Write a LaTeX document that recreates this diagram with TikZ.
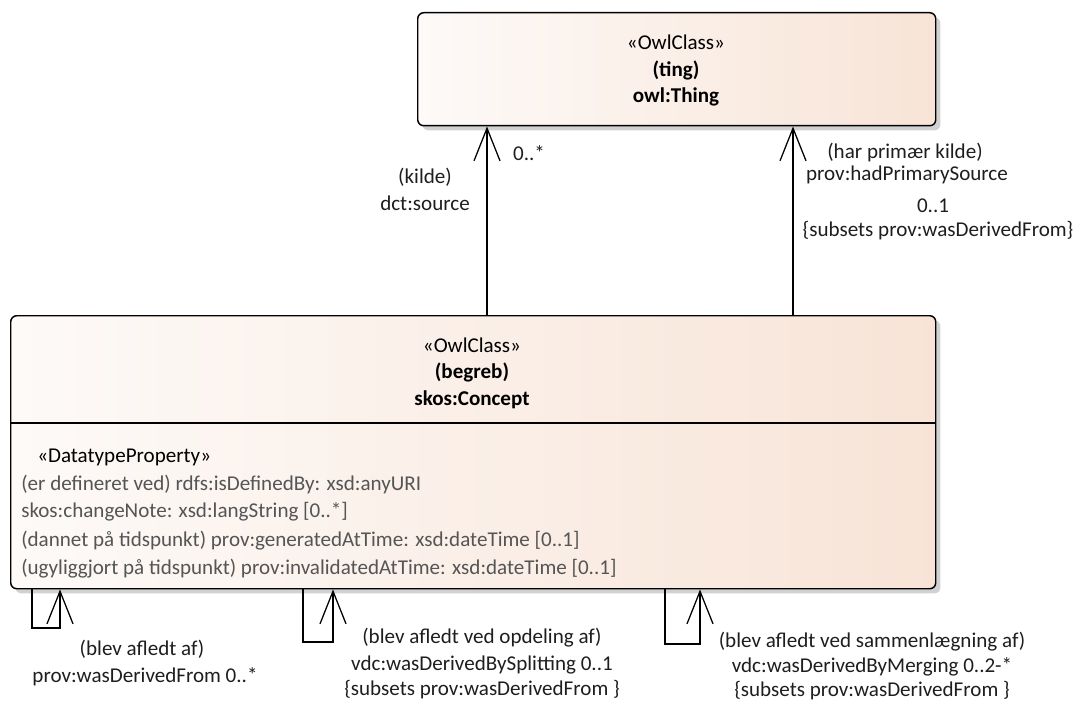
\documentclass[tikz,border=0pt]{standalone}
\usepackage{fontspec}
\setmainfont{Carlito}
\usetikzlibrary{arrows.meta,positioning,shadows,calc}
\definecolor{classleft}{RGB}{253,250,248}
\definecolor{classright}{RGB}{248,228,215}
\definecolor{propgray}{RGB}{85,85,85}
\definecolor{labelblack}{RGB}{30,30,30}

\begin{document}
\begin{tikzpicture}[x=0.75pt, y=-0.75pt,
    every node/.style={inner sep=0pt, font=\fontsize{15.8}{19}\selectfont},
    owlclass/.style={draw, line width=1.1pt, rounded corners=4.5pt, anchor=north west,
        left color=classleft, right color=classright,
        drop shadow={shadow xshift=3.5pt, shadow yshift=-3.5pt, fill=black!18, opacity=1}},
    assoc/.style={-{Straight Barb[length=24.5pt, width=19.5pt]}, line width=0.95pt},
    lbl/.style={text=labelblack, align=center},
    prop/.style={text=propgray, anchor=west}]
    	\useasboundingbox (0,0) rectangle (1080,706);
    	
    	% classes
    	\node[owlclass, minimum width=518*0.75pt, minimum height=113*0.75pt] (ting) at (417,12) {};
    	\node[owlclass, minimum width=925*0.75pt, minimum height=273*0.75pt] (begreb) at (10,315) {};
    	\draw[line width=1.1pt] (begreb.west |- 0,423) -- (begreb.east |- 0,423);
    	
    	\node (tingstereo) at (676,42) {«OwlClass»};
    	\node[font=\fontsize{15.8}{19}\selectfont\bfseries] (tingdk) at (676,70) {(ting)};
    	\node[font=\fontsize{15.8}{19}\selectfont\bfseries] (tingname) at (676,97) {owl:Thing};
    	
    	\node (begrebstereo) at (472,345) {«OwlClass»};
    	\node[font=\fontsize{15.8}{19}\selectfont\bfseries] (begrebdk) at (472,372) {(begreb)};
    	\node[font=\fontsize{15.8}{19}\selectfont\bfseries] (begrebname) at (472,400) {skos:Concept};
    	
    	% attributes
    	\node[anchor=west] (propstereo) at (37,457) {«DatatypeProperty»};
    	\node[prop] (definedby) at (21,484) {(er defineret ved) rdfs:isDefinedBy: xsd:anyURI};
    	\node[prop] (changenote) at (21,512) {skos:changeNote: xsd:langString [0..*]};
    	\node[prop] (generated) at (21,541) {(dannet på tidspunkt) prov:generatedAtTime: xsd:dateTime [0..1]};
    	\node[prop] (invalidated) at (21,569) {(ugyliggjort på tidspunkt) prov:invalidatedAtTime: xsd:dateTime [0..1]};
    	
    	% associations up to owl:Thing
    	\coordinate (sourcex) at (487,0);
    	\coordinate (primaryx) at (793,0);
    	\draw[assoc] (begreb.north -| sourcex) -- (ting.south -| sourcex);
    	\draw[assoc] (begreb.north -| primaryx) -- (ting.south -| primaryx);
    	
    	\node[lbl] (sourcedk) at (425,177) {(kilde)};
    	\node[lbl] (sourcename) at (425,203) {dct:source};
    	\node[lbl] (sourcemult) at (529,153) {0..*};
    	
    	\node[lbl] (primarydk) at (905,152) {(har primær kilde)};
    	\node[lbl] (primaryname) at (907,175) {prov:hadPrimarySource};
    	\node[lbl] (primarymult) at (933,206) {0..1};
    	\node[lbl] (primarysub) at (938,231) {\{subsets prov:wasDerivedFrom\}};
    	
    	% self associations
    	\coordinate (derivedA) at (32,628);
    	\coordinate (derivedB) at (60,628);
    	\coordinate (splitA) at (303,642);
    	\coordinate (splitB) at (333,642);
    	\coordinate (mergeA) at (665,644);
    	\coordinate (mergeB) at (700,644);
    	\draw[assoc] (begreb.south -| derivedA) -- (derivedA) -- (derivedB) -- (begreb.south -| derivedB);
    	\draw[assoc] (begreb.south -| splitA) -- (splitA) -- (splitB) -- (begreb.south -| splitB);
    	\draw[assoc] (begreb.south -| mergeA) -- (mergeA) -- (mergeB) -- (begreb.south -| mergeB);
    	
    	\node[lbl] (deriveddk) at (142,649) {(blev afledt af)};
    	\node[lbl] (derivedname) at (145,677) {prov:wasDerivedFrom 0..*};
    	
    	\node[lbl] (splitdk) at (482,638) {(blev afledt ved opdeling af)};
    	\node[lbl] (splitname) at (482,665) {vdc:wasDerivedBySplitting 0..1};
    	\node[lbl] (splitsub) at (482,690) {\{subsets prov:wasDerivedFrom \}};
    	
    	\node[lbl] (mergedk) at (872,642) {(blev afledt ved sammenlægning af)};
    	\node[lbl] (mergename) at (872,667) {vdc:wasDerivedByMerging 0..2-*};
    	\node[lbl] (mergesub) at (872,691) {\{subsets prov:wasDerivedFrom \}};
    \end{tikzpicture}
\end{document}
